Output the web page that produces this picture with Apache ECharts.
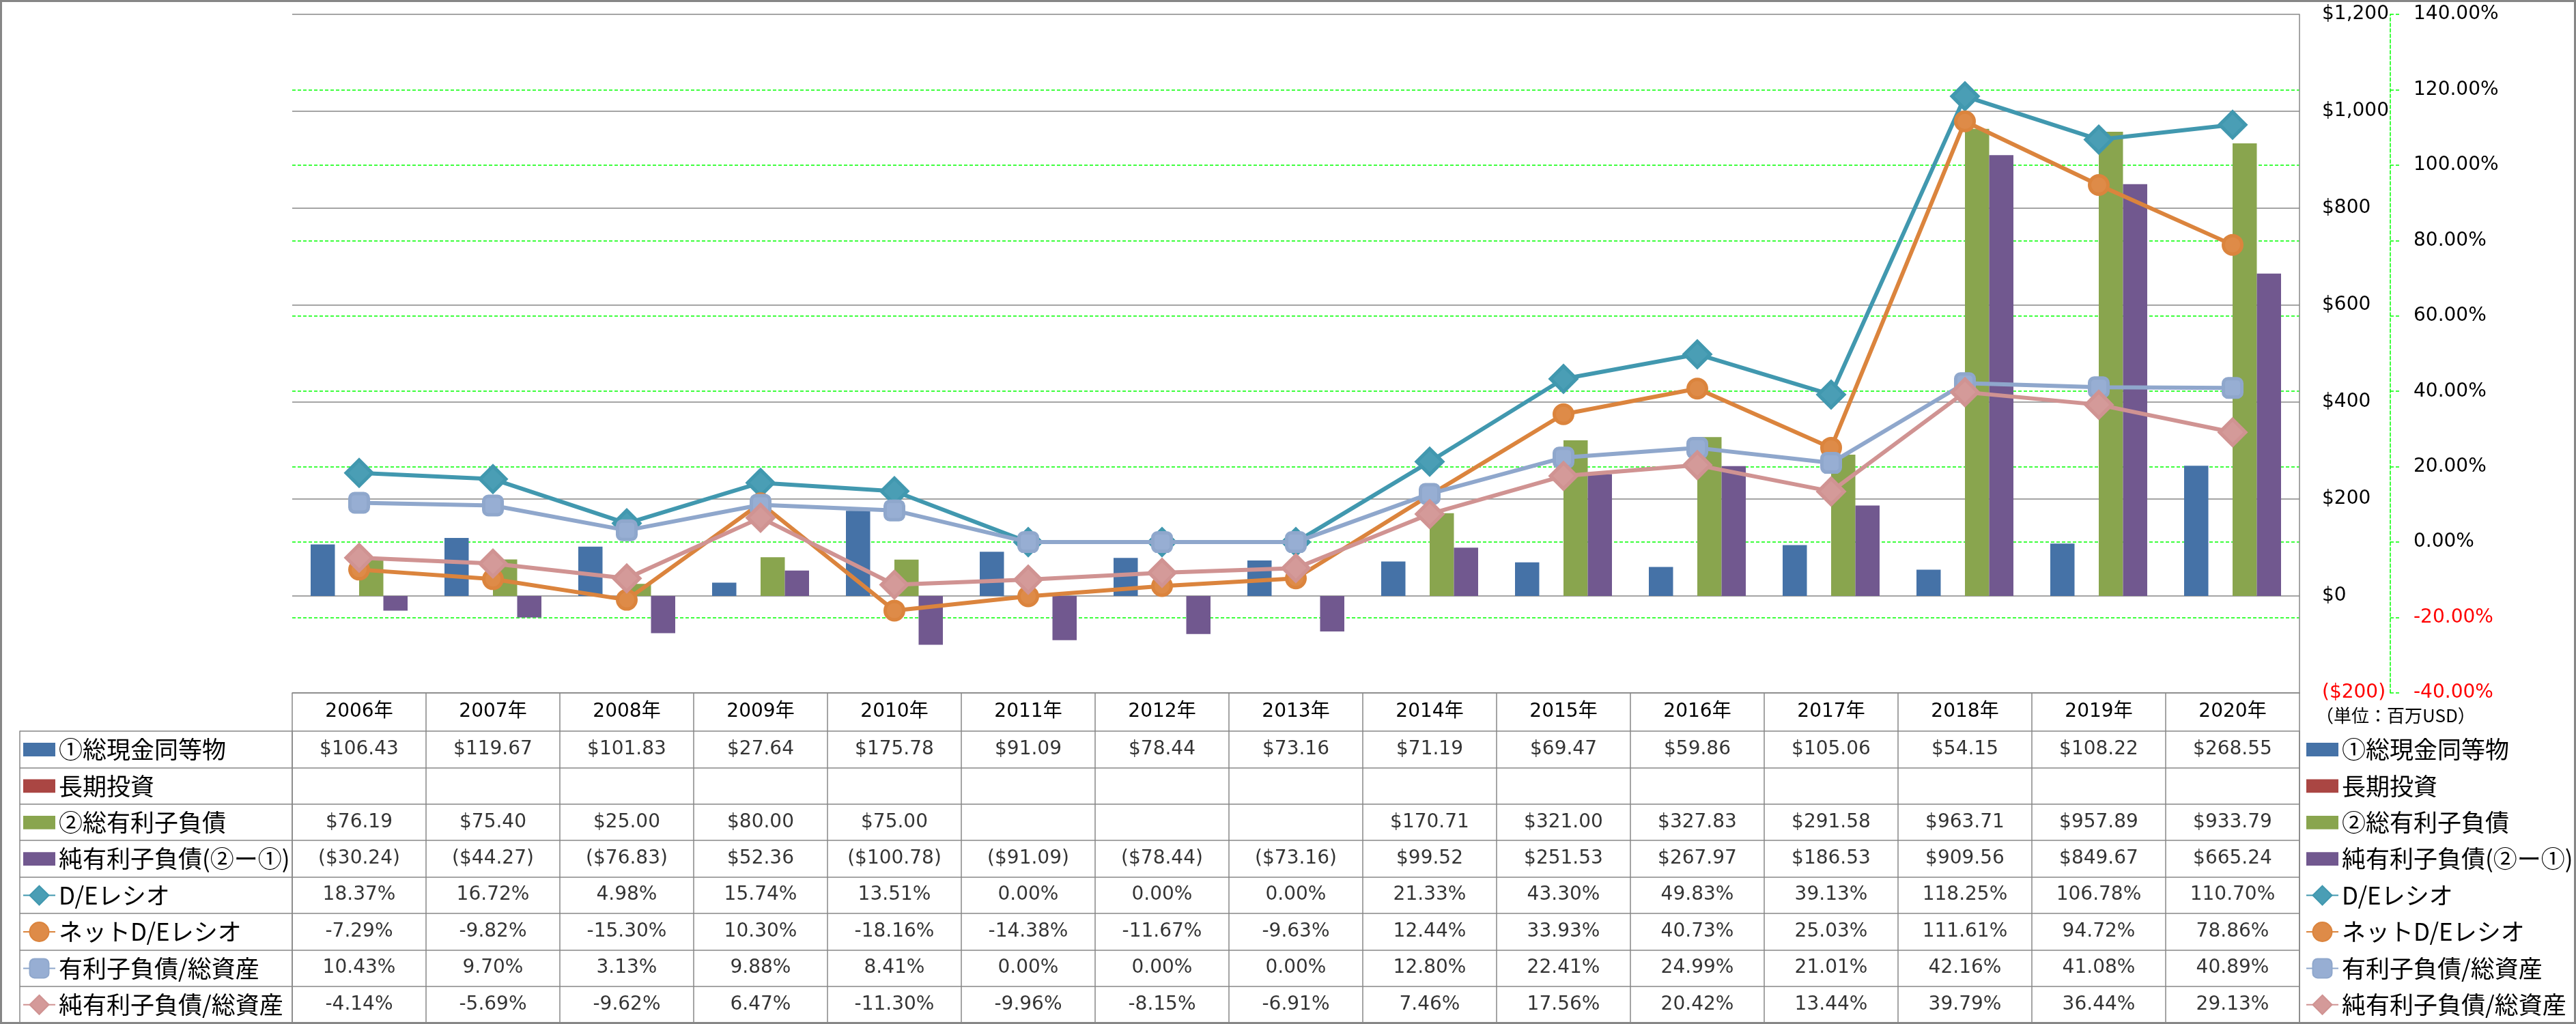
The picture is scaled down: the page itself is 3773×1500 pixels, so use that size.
<!DOCTYPE html>
<html><head><meta charset="utf-8">
<script src="https://cdn.jsdelivr.net/npm/echarts@6/dist/echarts.min.js"></script>
<style>html,body{margin:0;padding:0;background:#fff}#c{width:3773px;height:1500px}</style>
</head><body><div id="c"></div>
<script>
// ---- data ----
const years = ['2006年','2007年','2008年','2009年','2010年','2011年','2012年','2013年','2014年','2015年','2016年','2017年','2018年','2019年','2020年'];
const cashEq = [106.43,119.67,101.83,27.64,175.78,91.09,78.44,73.16,71.19,69.47,59.86,105.06,54.15,108.22,268.55];
const longInv = [null,null,null,null,null,null,null,null,null,null,null,null,null,null,null];
const totalDebt = [76.19,75.40,25.00,80.00,75.00,null,null,null,170.71,321.00,327.83,291.58,963.71,957.89,933.79];
const netDebt = [-30.24,-44.27,-76.83,52.36,-100.78,-91.09,-78.44,-73.16,99.52,251.53,267.97,186.53,909.56,849.67,665.24];
const deRatio = [18.37,16.72,4.98,15.74,13.51,0.00,0.00,0.00,21.33,43.30,49.83,39.13,118.25,106.78,110.70];
const netDeRatio = [-7.29,-9.82,-15.30,10.30,-18.16,-14.38,-11.67,-9.63,12.44,33.93,40.73,25.03,111.61,94.72,78.86];
const debtToAssets = [10.43,9.70,3.13,9.88,8.41,0.00,0.00,0.00,12.80,22.41,24.99,21.01,42.16,41.08,40.89];
const netDebtToAssets = [-4.14,-5.69,-9.62,6.47,-11.30,-9.96,-8.15,-6.91,7.46,17.56,20.42,13.44,39.79,36.44,29.13];
const seriesNames = ['①総現金同等物','長期投資','②総有利子負債','純有利子負債(②ー①)','D/Eレシオ','ネットD/Eレシオ','有利子負債/総資産','純有利子負債/総資産'];
const usdAxis = {min:-200, max:1200, interval:200};
const pctAxis = {min:-40, max:140, interval:20};
const unitText = '（単位：百万USD）';

// ---- styles ----
const NUMFONT = "'DejaVu Sans','Noto Sans CJK JP',sans-serif";
const JPFONT = "'Noto Sans CJK JP','DejaVu Sans',sans-serif";
const GRAY = '#878787';
const GREEN = '#00FF00';
const barColors = ['#4572A7','#AA4643','#89A54E','#71588F'];
const lineColors = ['#4198AF','#DB843D','#8FA7CC','#D09392'];
const fillColors = ['#4A9EB5','#DE8B48','#97AED3','#D49A99'];
const symbols = ['diamond','circle','roundRect','diamond'];
const symSizes = [38,27,27,38];

function fmtUsd(v){
  const a = Math.abs(v).toFixed(2).replace(/\B(?=(\d{3})+(?!\d))/g, ',');
  return v < 0 ? '($' + a + ')' : '$' + a;
}
function fmtPct(v){ return v.toFixed(2) + '%'; }

const rows = [cashEq, longInv, totalDebt, netDebt, deRatio, netDeRatio, debtToAssets, netDebtToAssets];
const tableCells = [];
rows.forEach((arr, r) => {
  arr.forEach((v, c) => {
    if (v === null || v === undefined) return;
    tableCells.push({value:[c, r], text: r < 4 ? fmtUsd(v) : fmtPct(v)});
  });
});

const barData = [cashEq, longInv, totalDebt, netDebt];
const lineData = [deRatio, netDeRatio, debtToAssets, netDebtToAssets];

const series = [];
barData.forEach((d, i) => {
  series.push({
    name: seriesNames[i], type:'bar', xAxisIndex:0, yAxisIndex:0, data:d,
    barWidth:35.5, barGap:'0%', itemStyle:{color:barColors[i]}
  });
});
lineData.forEach((d, i) => {
  series.push({
    name: seriesNames[4+i], type:'line', xAxisIndex:0, yAxisIndex:1, data:d,
    symbol: symbols[i], symbolSize: symSizes[i],
    lineStyle:{color:lineColors[i], width:6},
    itemStyle:{color:fillColors[i], borderColor:lineColors[i], borderWidth:5},
    z: 3 + i
  });
});
series.push({
  type:'scatter', xAxisIndex:1, yAxisIndex:2, data: tableCells,
  symbol:'rect', symbolSize:1, itemStyle:{color:'rgba(0,0,0,0)'},
  label:{show:true, position:'inside', formatter:p => p.data.text, color:'#000', fontSize:28, fontFamily:NUMFONT},
  silent:true
});

const legendData = seriesNames.map((n, i) => i < 4 ? {name:n, icon:'path://M0,0h45v19h-45z'} : {name:n});
const legendBase = {
  orient:'vertical', itemWidth:47, itemHeight:35, itemGap:18.4, padding:0,
  selectedMode:false, data: legendData,
  textStyle:{fontSize:35, lineHeight:35, fontFamily:JPFONT, color:'#000'}
};

const grayLine = {color:GRAY, width:1.5};
const greenDash = {color:GREEN, width:1.5, type:[5,3]};

const option = {
  animation:false,
  backgroundColor:'#fff',
  grid:[
    {left:428, right:405, top:21, bottom:485},
    {left:428, right:405, top:1071, bottom:2}
  ],
  legend:[
    Object.assign({}, legendBase, {left:33, top:1080.5}),
    Object.assign({}, legendBase, {left:3377, top:1080.5})
  ],
  xAxis:[
    {type:'category', gridIndex:0, data:years, position:'bottom', boundaryGap:true,
     axisLine:{show:true, onZero:false, lineStyle:grayLine},
     axisTick:{show:true, length:56, inside:false, interval:0, alignWithLabel:false, lineStyle:grayLine},
     axisLabel:{show:true, interval:0, margin:13, lineHeight:30, fontSize:28, fontFamily:NUMFONT, color:'#000'},
     splitLine:{show:false}},
    {type:'category', gridIndex:1, data:years, position:'bottom', boundaryGap:true,
     axisLine:{show:true, onZero:false, lineStyle:grayLine},
     axisTick:{show:false}, axisLabel:{show:false},
     splitLine:{show:true, interval:0, lineStyle:grayLine}}
  ],
  yAxis:[
    {type:'value', gridIndex:0, position:'right', z:1, min:usdAxis.min, max:usdAxis.max, interval:usdAxis.interval,
     axisLine:{show:true, lineStyle:grayLine}, axisTick:{show:false},
     axisLabel:{margin:33, align:'left', fontSize:28, fontFamily:NUMFONT,
       formatter:v => v < 0 ? '($' + Math.abs(v) + ')' : '$' + String(v).replace(/\B(?=(\d{3})+(?!\d))/g, ','),
       color:v => parseFloat(v) < 0 ? '#FF0000' : '#000'},
     splitLine:{show:true, lineStyle:grayLine}},
    {type:'value', gridIndex:0, position:'right', z:0, offset:133, min:pctAxis.min, max:pctAxis.max, interval:pctAxis.interval,
     axisLine:{show:true, lineStyle:greenDash},
     axisTick:{show:true, length:13, inside:false, lineStyle:greenDash},
     axisLabel:{margin:34, align:'left', fontSize:28, fontFamily:NUMFONT,
       formatter:v => Number(v).toFixed(2) + '%',
       color:v => parseFloat(v) < 0 ? '#FF0000' : '#000'},
     splitLine:{show:true, showMaxLine:false, showMinLine:false, lineStyle:greenDash}},
    {type:'category', gridIndex:1, position:'left', inverse:true, data:seriesNames, boundaryGap:true,
     axisLine:{show:true, lineStyle:grayLine},
     axisTick:{show:true, length:399, inside:false, interval:0, alignWithLabel:false, lineStyle:grayLine},
     axisLabel:{show:false},
     splitLine:{show:true, interval:0, lineStyle:grayLine}},
    {type:'category', gridIndex:1, position:'left', offset:399, inverse:true, data:seriesNames,
     axisLine:{show:true, lineStyle:grayLine}, axisTick:{show:false}, axisLabel:{show:false}, splitLine:{show:false}},
    {type:'category', gridIndex:1, position:'right', inverse:true, data:seriesNames,
     axisLine:{show:true, lineStyle:grayLine}, axisTick:{show:false}, axisLabel:{show:false}, splitLine:{show:false}}
  ],
  graphic:[
    {type:'text', left:3392, top:1035, style:{text:unitText, font:'26px ' + JPFONT, fill:'#000'}},
    {type:'rect', shape:{x:1.5, y:1.5, width:3770, height:1497}, style:{fill:'none', stroke:'#868686', lineWidth:3}, silent:true}
  ],
  series: series
};

const chart = echarts.init(document.getElementById('c'), null, {renderer:'canvas'});
chart.setOption(option);
</script></body></html>
